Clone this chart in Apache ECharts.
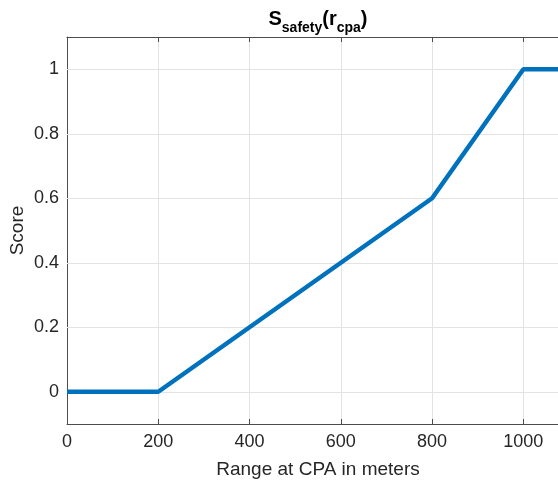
<!DOCTYPE html>
<html><head><meta charset="utf-8">
<script src="https://cdn.jsdelivr.net/npm/echarts@6/dist/echarts.min.js"></script>
<style>html,body{margin:0;padding:0;background:#fff}#c{width:558px;height:480px}</style>
</head><body><div id="c"></div>
<script>
const rangeX = [0, 200, 800, 1000, 1100];
const scoreY = [0, 0, 0.6, 1, 1];
const xTicks = [0, 200, 400, 600, 800, 1000];
const yTicks = [0, 0.2, 0.4, 0.6, 0.8, 1];

const chart = echarts.init(document.getElementById('c'), null, {renderer: 'canvas'});
const font = 'Liberation Sans, Arial, Helvetica, sans-serif';
const axisColor = '#4d4d4d';
const textColor = '#262626';
const pts = rangeX.map((x, i) => [x, scoreY[i]]);
chart.setOption({
  animation: false,
  title: {
    text: '{s|S}{sub|safety}{s|(r}{sub|cpa}{s|)}',
    left: 313, top: 4, textAlign: 'center',
    textStyle: {
      rich: {
        s: {fontFamily: font, fontSize: 20, fontWeight: 'bold', color: '#000', verticalAlign: 'top', lineHeight: 28},
        sub: {fontFamily: font, fontSize: 14, fontWeight: 'bold', color: '#000', padding: [10, 0, 0, 0], lineHeight: 28}
      }
    }
  },
  grid: {left: 67, top: 37, bottom: 56, right: -11, show: false, containLabel: false, outerBoundsMode: 'none'},
  xAxis: [{
    type: 'value', min: 0, max: 1100, interval: 200,
    name: 'Range at CPA in meters', nameLocation: 'middle', nameGap: 36, nameMoveOverlap: false,
    nameTextStyle: {fontFamily: font, fontSize: 19, color: textColor},
    axisLine: {show: true, onZero: false, lineStyle: {color: axisColor, width: 1}},
    axisTick: {show: true, inside: true, length: 5, lineStyle: {color: axisColor}},
    axisLabel: {fontFamily: font, fontSize: 18, color: textColor, margin: 9, showMaxLabel: false,
      formatter: v => xTicks.includes(v) ? String(v) : ''},
    splitLine: {show: true, lineStyle: {color: '#e3e3e3', width: 1}}
  }, {
    type: 'value', min: 0, max: 1100, interval: 200, position: 'top',
    axisLine: {show: true, onZero: false, lineStyle: {color: axisColor, width: 1}},
    axisTick: {show: true, inside: true, length: 5, lineStyle: {color: axisColor}},
    axisLabel: {show: false}, splitLine: {show: false}
  }],
  yAxis: [{
    type: 'value', min: -0.1, max: 1.1,
    name: 'Score', nameLocation: 'middle', nameGap: 40, nameRotate: 90, nameMoveOverlap: false,
    nameTextStyle: {fontFamily: font, fontSize: 19, color: textColor},
    axisLine: {show: true, onZero: false, lineStyle: {color: axisColor, width: 1}},
    axisTick: {show: true, inside: true, length: 5, lineStyle: {color: axisColor},
      customValues: yTicks},
    axisLabel: {fontFamily: font, fontSize: 18, color: textColor, margin: 8,
      customValues: yTicks, formatter: v => String(Math.round(v * 10) / 10)},
    splitLine: {show: false}
  }],
  series: [{
    type: 'line', data: pts, showSymbol: false, xAxisIndex: 0,
    lineStyle: {color: '#0072BD', width: 4.5}, clip: true,
    markLine: {
      silent: true, symbol: 'none', label: {show: false}, z: 1,
      lineStyle: {color: '#e3e3e3', width: 1, type: 'solid'},
      data: yTicks.map(v => ({yAxis: v}))
    },
    z: 5
  }]
});
</script></body></html>
